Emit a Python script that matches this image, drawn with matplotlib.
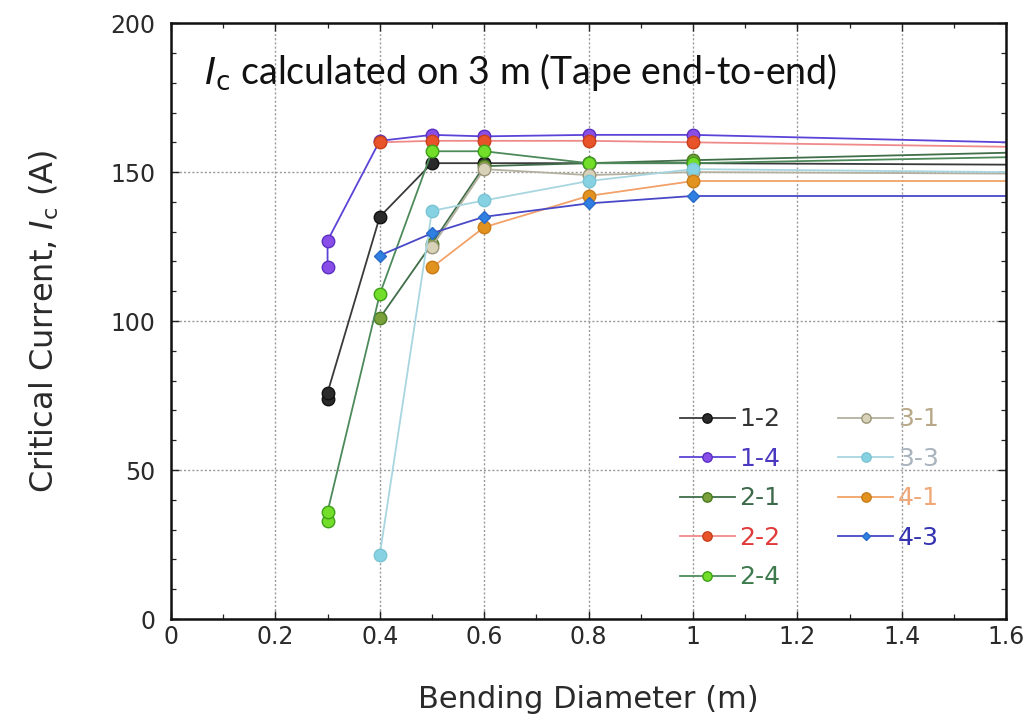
import matplotlib
matplotlib.use("Agg")
import matplotlib.pyplot as plt
from matplotlib.ticker import MultipleLocator

# Bending diameter (m) and critical current (A) for each tape sample
labels = ["1-2", "1-4", "2-1", "2-2", "2-4", "3-1", "3-3", "4-1", "4-3"]

d_12 = [0.3, 0.3, 0.4, 0.5, 0.6, 0.8, 1.0]
ic_12 = [74, 76, 135, 153, 153, 153, 153]
d_14 = [0.3, 0.3, 0.4, 0.5, 0.6, 0.8, 1.0]
ic_14 = [118, 127, 160.5, 162.5, 162, 162.5, 162.5]
d_21 = [0.4, 0.5, 0.6, 0.8, 1.0]
ic_21 = [101, 126, 152, 153, 154]
d_22 = [0.4, 0.5, 0.6, 0.8, 1.0]
ic_22 = [160, 160.5, 160.5, 160.5, 160]
d_24 = [0.3, 0.3, 0.4, 0.5, 0.6, 0.8, 1.0]
ic_24 = [33, 36, 109, 157, 157, 153, 153]
d_31 = [0.5, 0.6, 0.8, 1.0]
ic_31 = [125, 151, 149, 150]
d_33 = [0.4, 0.5, 0.6, 0.8, 1.0]
ic_33 = [21.5, 137, 140.5, 147, 151]
d_41 = [0.5, 0.6, 0.8, 1.0]
ic_41 = [118, 131.5, 142, 147]
d_43 = [0.4, 0.5, 0.6, 0.8, 1.0]
ic_43 = [122, 129.5, 135, 139.5, 142]

# Straight-tape reference value, drawn as a continuation to the axis edge
d_straight = 1.6
ic_straight = [152.5, 160, 156.5, 158.5, 155, 149.5, 150, 147, 142]

x_ticks = [0, 0.2, 0.4, 0.6, 0.8, 1, 1.2, 1.4, 1.6]
x_ticklabels = ["0", "0.2", "0.4", "0.6", "0.8", "1", "1.2", "1.4", "1.6"]
y_ticks = [0, 50, 100, 150, 200]

series_d = [d_12, d_14, d_21, d_22, d_24, d_31, d_33, d_41, d_43]
series_ic = [ic_12, ic_14, ic_21, ic_22, ic_24, ic_31, ic_33, ic_41, ic_43]

styles = {
    "1-2": dict(line="#3a3a3a", face="#2a2a2a", edge="#111111", marker="o", ms=9, text="#333333"),
    "1-4": dict(line="#5a44d8", face="#8a4ee8", edge="#5a30c0", marker="o", ms=9, text="#4a38c0"),
    "2-1": dict(line="#3f6e48", face="#79a03a", edge="#4a7a22", marker="o", ms=9, text="#3d6a4a"),
    "2-2": dict(line="#f08a8a", face="#e8532a", edge="#c8401c", marker="o", ms=9, text="#e03a3a"),
    "2-4": dict(line="#4d8a5a", face="#72de2a", edge="#3ea018", marker="o", ms=9, text="#3d7a4e"),
    "3-1": dict(line="#b4b0a0", face="#d8d2b8", edge="#9a9478", marker="o", ms=9, text="#b8a888"),
    "3-3": dict(line="#a8d6e0", face="#86d2e2", edge="#7cc4d4", marker="o", ms=9, text="#aab4be"),
    "4-1": dict(line="#f2a268", face="#e2921e", edge="#c87c18", marker="o", ms=9, text="#f0a878"),
    "4-3": dict(line="#4848c8", face="#2f80e0", edge="#2a6ac8", marker="D", ms=6, text="#3434b0"),
}

plt.rcParams["font.family"] = ["DejaVu Sans"]
plt.rcParams["mathtext.fontset"] = "dejavusans"

fig = plt.figure(figsize=(10.33, 7.23), dpi=100)
ax = fig.add_axes([0.1655, 0.1438, 0.8085, 0.8242])

for lab, d, ic, ic_end in zip(labels, series_d, series_ic, ic_straight):
    st = styles[lab]
    ax.plot([d[-1], d_straight], [ic[-1], ic_end], color=st["line"], lw=1.3,
            zorder=2, clip_on=True)
    ax.plot(d, ic, color=st["line"], lw=1.3, marker=st["marker"], ms=st["ms"],
            mfc=st["face"], mec=st["edge"], mew=1.0, label=lab, zorder=3)

ax.set_xlim(0, 1.6)
ax.set_ylim(0, 200)
ax.set_xticks(x_ticks)
ax.set_xticklabels(x_ticklabels)
ax.set_yticks(y_ticks)
ax.xaxis.set_minor_locator(MultipleLocator(0.1))
ax.yaxis.set_minor_locator(MultipleLocator(10))
ax.tick_params(which="both", direction="in", top=True, right=True, color="#222222")
ax.tick_params(which="major", length=6, width=1.0, labelsize=17, labelcolor="#2a2a2a")
ax.tick_params(axis="x", which="major", pad=4)
ax.tick_params(axis="y", which="major", pad=11)
ax.tick_params(which="minor", length=3.5, width=0.9)
ax.grid(True, which="major", color="#9a9a9a", ls=(0, (1.5, 1.5)), lw=1.0)
ax.set_axisbelow(True)
for sp in ax.spines.values():
    sp.set_linewidth(1.8)
    sp.set_color("#111111")

ax.set_xlabel("Bending Diameter (m)", fontsize=22, color="#2a2a2a", labelpad=26)
ax.set_ylabel(r"Critical Current, $I$$_{\rm c}$ (A)", fontsize=23, color="#2a2a2a",
              labelpad=36)

ax.text(0.040, 0.918, r"$I$$_{\rm c}$ calculated on 3 m (Tape end-to-end)",
        transform=ax.transAxes, fontsize=27, family="Lato", color="#111111",
        ha="left", va="center")

leg = ax.legend(ncol=2, frameon=False, loc="lower left",
                bbox_to_anchor=(0.582, 0.012), fontsize=18, handlelength=2.2,
                handletextpad=0.2, labelspacing=0.62, columnspacing=2.3,
                markerscale=0.75)
for txt, lab in zip(leg.get_texts(), labels):
    txt.set_color(styles[lab]["text"])

fig.savefig("out.png", dpi=100)
